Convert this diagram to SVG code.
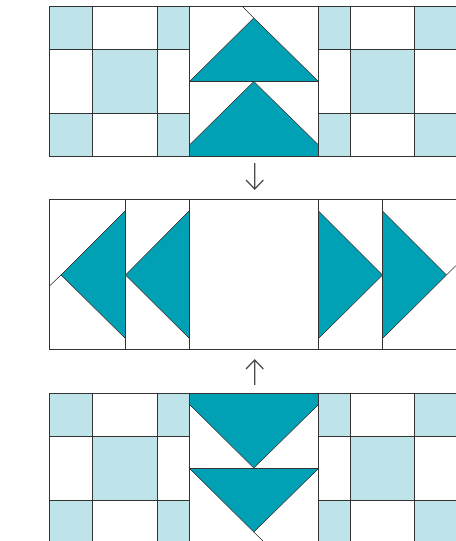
<svg xmlns="http://www.w3.org/2000/svg" width="456" height="541" viewBox="0 0 456 541">
<style>
.w{fill:#fff;stroke:#333;stroke-width:1}
.l{fill:#BEE3E9;stroke:#333;stroke-width:1}
.t{fill:#00A1B5;stroke:#333;stroke-width:1;stroke-linejoin:round}
.s{fill:none;stroke:#333;stroke-width:1}
.a{fill:none;stroke:#444;stroke-width:1.3}
</style>
<rect width="456" height="541" fill="#fff"/>
<g id="top-left-ninepatch">
<rect class="l" x="49.5" y="6.5" width="43" height="43"/>
<rect class="w" x="92.5" y="6.5" width="65" height="43"/>
<rect class="l" x="157.5" y="6.5" width="32" height="43"/>
<rect class="w" x="49.5" y="49.5" width="43" height="64"/>
<rect class="l" x="92.5" y="49.5" width="65" height="64"/>
<rect class="w" x="157.5" y="49.5" width="32" height="64"/>
<rect class="l" x="49.5" y="113.5" width="43" height="43"/>
<rect class="w" x="92.5" y="113.5" width="65" height="43"/>
<rect class="l" x="157.5" y="113.5" width="32" height="43"/>
</g>
<g id="top-geese">
<rect class="w" x="189.5" y="6.5" width="129" height="75"/>
<rect class="w" x="189.5" y="81.5" width="129" height="75"/>
<polygon class="t" points="189.5,81.5 253.8,18 318.5,81.5"/>
<polygon class="t" points="189.5,145 253.8,81.5 318.5,145 318.5,156.5 189.5,156.5"/>
<line class="s" x1="253.8" y1="18" x2="242.5" y2="6.5"/>
</g>
<g id="top-right-ninepatch">
<rect class="l" x="318.5" y="6.5" width="32" height="43"/>
<rect class="w" x="350.5" y="6.5" width="64" height="43"/>
<rect class="l" x="414.5" y="6.5" width="50" height="43"/>
<rect class="w" x="318.5" y="49.5" width="32" height="64"/>
<rect class="l" x="350.5" y="49.5" width="64" height="64"/>
<rect class="w" x="414.5" y="49.5" width="50" height="64"/>
<rect class="l" x="318.5" y="113.5" width="32" height="43"/>
<rect class="w" x="350.5" y="113.5" width="64" height="43"/>
<rect class="l" x="414.5" y="113.5" width="50" height="43"/>
</g>
<g id="middle-left-geese">
<rect class="w" x="49.5" y="199.5" width="76" height="150"/>
<rect class="w" x="125.5" y="199.5" width="64" height="150"/>
<polygon class="t" points="125.5,210.5 61,275 125.5,338.5"/>
<polygon class="t" points="189.5,210.5 125.5,275 189.5,338.5"/>
<line class="s" x1="61" y1="275" x2="49.5" y2="286"/>
</g>
<g id="middle-center">
<rect class="w" x="189.5" y="199.5" width="129" height="150"/>
</g>
<g id="middle-right-geese">
<rect class="w" x="318.5" y="199.5" width="64" height="150"/>
<rect class="w" x="382.5" y="199.5" width="90" height="150"/>
<polygon class="t" points="318.5,211 382.5,275 318.5,338.5"/>
<polygon class="t" points="382.5,211 446.5,275 382.5,338.5"/>
<line class="s" x1="446.5" y1="275" x2="456" y2="265.5"/>
</g>
<g id="bottom-left-ninepatch">
<rect class="l" x="49.5" y="393.5" width="43" height="43"/>
<rect class="w" x="92.5" y="393.5" width="65" height="43"/>
<rect class="l" x="157.5" y="393.5" width="32" height="43"/>
<rect class="w" x="49.5" y="436.5" width="43" height="64"/>
<rect class="l" x="92.5" y="436.5" width="65" height="64"/>
<rect class="w" x="157.5" y="436.5" width="32" height="64"/>
<rect class="l" x="49.5" y="500.5" width="43" height="50"/>
<rect class="w" x="92.5" y="500.5" width="65" height="50"/>
<rect class="l" x="157.5" y="500.5" width="32" height="50"/>
</g>
<g id="bottom-geese">
<rect class="w" x="189.5" y="393.5" width="129" height="75"/>
<rect class="w" x="189.5" y="468.5" width="129" height="80"/>
<polygon class="t" points="189.5,393.5 318.5,393.5 318.5,404.5 253.8,468 189.5,404.5"/>
<polygon class="t" points="189.5,468.5 318.5,468.5 253.8,532"/>
<line class="s" x1="253.8" y1="532" x2="263" y2="541"/>
</g>
<g id="bottom-right-ninepatch">
<rect class="l" x="318.5" y="393.5" width="32" height="43"/>
<rect class="w" x="350.5" y="393.5" width="64" height="43"/>
<rect class="l" x="414.5" y="393.5" width="50" height="43"/>
<rect class="w" x="318.5" y="436.5" width="32" height="64"/>
<rect class="l" x="350.5" y="436.5" width="64" height="64"/>
<rect class="w" x="414.5" y="436.5" width="50" height="64"/>
<rect class="l" x="318.5" y="500.5" width="32" height="50"/>
<rect class="w" x="350.5" y="500.5" width="64" height="50"/>
<rect class="l" x="414.5" y="500.5" width="50" height="50"/>
</g>
<g id="connectors">
<path class="a" d="M254.7,163 V189 M246,180 L254.7,189 L263.4,180"/>
<path class="a" d="M254.7,385 V360 M246,369 L254.7,360 L263.4,369"/>
</g>
</svg>
